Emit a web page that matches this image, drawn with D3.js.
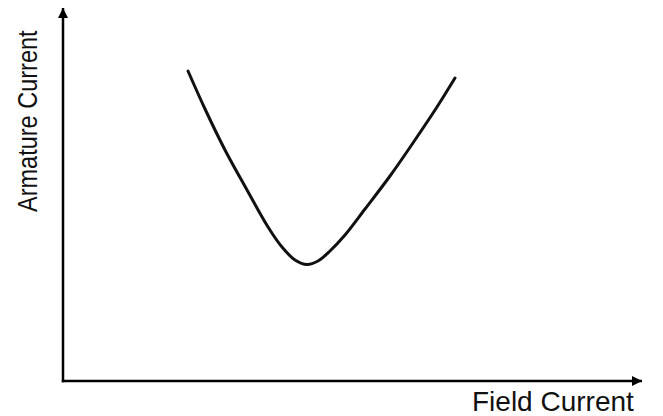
<!DOCTYPE html>
<html>
<head>
<meta charset="utf-8">
<script src="https://cdn.jsdelivr.net/npm/d3@7"></script>
<style>
  body { margin: 0; background: #fff; }
  svg { display: block; }
</style>
</head>
<body>
<div id="chart"></div>
<script>
// V-curve, values (arbitrary 0-100 units)
const fieldCurrent = [21.59, 24.53, 27.98, 31.78, 35.41, 37.82, 40.07, 42.14,
                      44.04, 46.11, 48.70, 52.16, 56.48, 60.79, 64.59, 67.70];
const armatureCurrent = [83.11, 72.92, 61.93, 51.21, 41.29, 35.92, 32.44, 31.23,
                         32.17, 34.85, 39.14, 46.11, 54.96, 64.61, 73.46, 81.23];

const xLabel = "Field Current";
const yLabel = "Armature Current";

const width = 663;
const height = 416;
const margin = { top: 8, right: 21, bottom: 35, left: 63 };

const svg = d3.select("#chart")
    .append("svg")
    .attr("width", width)
    .attr("height", height);

const xScale = d3.scaleLinear()
    .domain([0, 100])
    .range([margin.left, width - margin.right]);

const yScale = d3.scaleLinear()
    .domain([0, 100])
    .range([height - margin.bottom, margin.top]);

// arrow heads
const defs = svg.append("defs");
defs.append("marker")
    .attr("id", "arrow")
    .attr("viewBox", "0 0 10 10")
    .attr("refX", 10)
    .attr("refY", 5)
    .attr("markerUnits", "userSpaceOnUse")
    .attr("markerWidth", 10)
    .attr("markerHeight", 10)
    .attr("orient", "auto")
    .append("path")
    .attr("d", "M0,0 L10,5 L0,10 Z")
    .attr("fill", "#000");

// Axes (no ticks, just the lines with arrows)
const x0 = xScale(0), y0 = yScale(0);

svg.append("line")
    .attr("class", "x-axis")
    .attr("x1", x0 - 1.2)
    .attr("y1", y0)
    .attr("x2", xScale(100))
    .attr("y2", y0)
    .attr("stroke", "#000")
    .attr("stroke-width", 2.5)
    .attr("marker-end", "url(#arrow)");

svg.append("line")
    .attr("class", "y-axis")
    .attr("x1", x0)
    .attr("y1", y0 + 1.2)
    .attr("x2", x0)
    .attr("y2", yScale(100))
    .attr("stroke", "#000")
    .attr("stroke-width", 2.5)
    .attr("marker-end", "url(#arrow)");

// Curve
const points = fieldCurrent.map((f, i) => [f, armatureCurrent[i]]);

const line = d3.line()
    .x(d => xScale(d[0]))
    .y(d => yScale(d[1]))
    .curve(d3.curveCatmullRom.alpha(0.5));

svg.append("path")
    .datum(points)
    .attr("d", line)
    .attr("fill", "none")
    .attr("stroke", "#111")
    .attr("stroke-width", 3)
    .attr("stroke-linecap", "round");

// Axis labels
svg.append("text")
    .attr("class", "x-label")
    .attr("x", 472)
    .attr("y", 411)
    .style("font-family", "'Liberation Sans', Arial, sans-serif")
    .style("font-size", "28px")
    .attr("fill", "#111")
    .text(xLabel);

// y label is narrow in the original, squeeze it along its length
svg.append("text")
    .attr("class", "y-label")
    .attr("transform", "translate(37,212) rotate(-90) scale(0.84,1)")
    .attr("x", 0)
    .attr("y", 0)
    .style("font-family", "'Liberation Sans', Arial, sans-serif")
    .style("font-size", "28px")
    .attr("fill", "#111")
    .text(yLabel);
</script>
</body>
</html>
